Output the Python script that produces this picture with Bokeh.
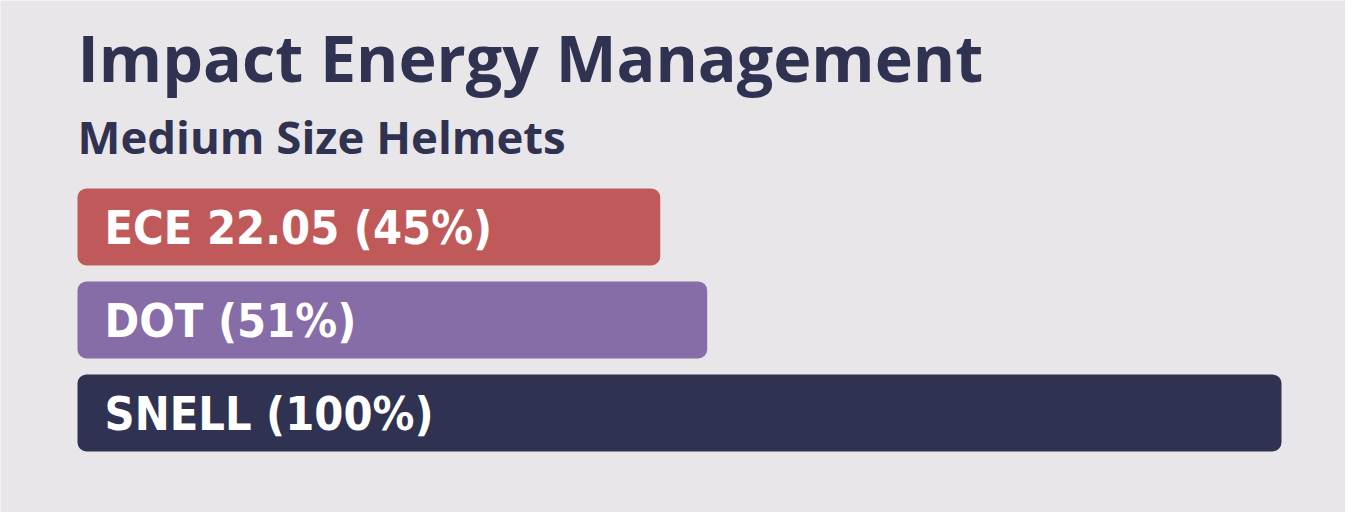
from bokeh.plotting import figure
from bokeh.models import Range1d, Label
from bokeh.core.properties import value
from bokeh.embed import file_html
from bokeh.resources import INLINE

# data
categories = ["ECE 22.05", "DOT", "SNELL"]
shares = [45, 51, 100]           # percentages printed on the bars
bar_lengths = [48.4, 52.3, 100]  # drawn bar lengths (relative to SNELL)
colors = ["#C05A5A", "#866DA8", "#2F3250"]
labels = ["%s (%d%%)" % (c, s) for c, s in zip(categories, shares)]

title_text = "Impact Energy Management"
subtitle_text = "Medium Size Helmets"

bg = "#E8E6E9"
navy = "#2F3250"

W, H = 1345, 512
px_per_unit = 12.04   # 100% -> 1204 px
x0 = -77 / px_per_unit

p = figure(width=W, height=H, output_backend="svg", toolbar_location=None,
           x_range=Range1d(x0, x0 + W / px_per_unit),
           y_range=Range1d(3.07, -2.435),
           min_border=0)
p.axis.visible = False
p.grid.visible = False
p.outline_line_color = None
p.background_fill_color = bg
p.border_fill_color = bg

ys = list(range(len(categories)))

p.hbar(y=ys, left=0, right=bar_lengths, height=0.828, color=colors,
       line_color=None, border_radius=9)

p.text(x=[0] * len(ys), y=ys, text=labels, x_offset=27, y_offset=1,
       text_color="white", text_font=value("DejaVu Sans Condensed"),
       text_font_style="bold", text_font_size="46.5px",
       text_baseline="middle", text_align="left")

# title / subtitle
p.add_layout(Label(x=77, y=H - 56, x_units="screen", y_units="screen",
                   text=title_text, text_color=navy, text_font="Open Sans",
                   text_font_style="bold", text_font_size="64.5px",
                   text_baseline="alphabetic"))
p.add_layout(Label(x=77, y=H - 135, x_units="screen", y_units="screen",
                   text=subtitle_text, text_color=navy, text_font="Open Sans",
                   text_font_style="bold", text_font_size="45.5px",
                   text_baseline="alphabetic"))

open("out.html", "w").write(file_html(p, INLINE))
